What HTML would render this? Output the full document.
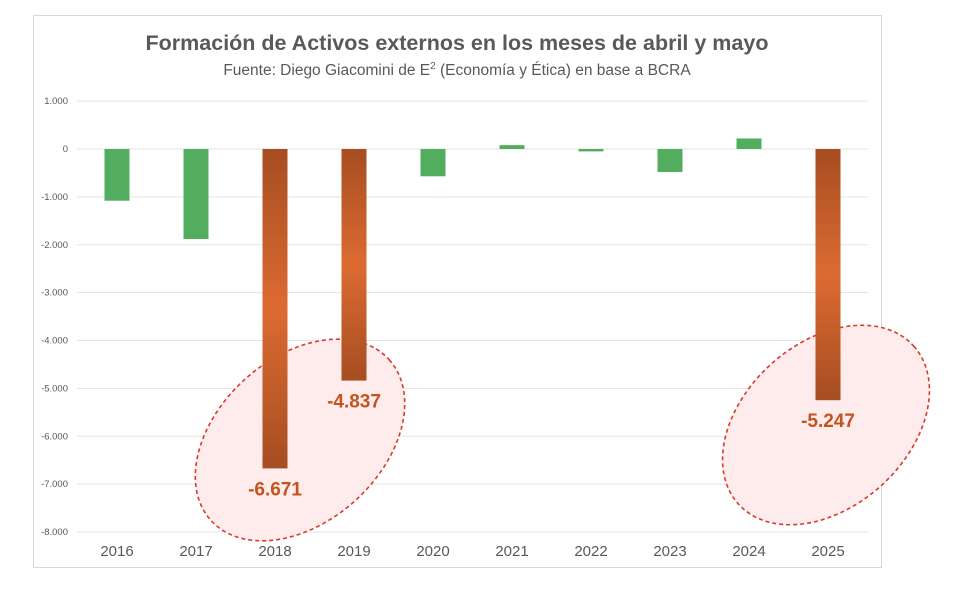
<!DOCTYPE html>
<html><head><meta charset="utf-8"><style>
body{margin:0;background:#fff;font-family:"Liberation Sans",sans-serif}
</style></head><body>
<svg width="958" height="606" id="c">
<defs>
<linearGradient id="og" x1="0" y1="0" x2="0" y2="1">
<stop offset="0" stop-color="#a64d22"/><stop offset="0.5" stop-color="#dc6b31"/><stop offset="1" stop-color="#a64d22"/>
</linearGradient>
</defs>
<rect x="33.5" y="15.5" width="848" height="552" fill="#fff" stroke="#d9d9d9"/>
<text x="457" y="50" text-anchor="middle" font-size="21.5" font-weight="bold" fill="#595959">Formación de Activos externos en los meses de abril y mayo</text>
<text x="457" y="75" text-anchor="middle" font-size="15.5" fill="#595959">Fuente: Diego Giacomini de E<tspan dy="-6" font-size="10">2</tspan><tspan dy="6"> (Economía y Ética) en base a BCRA</tspan></text>
<g id="grid"></g>
<g id="anno"></g>
<g id="bars"></g>
<g id="labels"></g>
</svg>
<script>
const categories=["2016","2017","2018","2019","2020","2021","2022","2023","2024","2025"];
const values=[-1080,-1880,-6671,-4837,-570,80,-50,-480,220,-5247];
const highlighted=[false,false,true,true,false,false,false,false,false,true];
const ticks=[1000,0,-1000,-2000,-3000,-4000,-5000,-6000,-7000,-8000];
const tickLabels=["1.000","0","-1.000","-2.000","-3.000","-4.000","-5.000","-6.000","-7.000","-8.000"];
const valueLabels=["","","-6.671","-4.837","","","","","","-5.247"];
const NS="http://www.w3.org/2000/svg";
const y=v=>149-v*0.04788;
const x=i=>117+i*79;
function mk(t,a,p){const e=document.createElementNS(NS,t);for(const k in a)e.setAttribute(k,a[k]);document.getElementById(p).appendChild(e);return e;}
ticks.forEach((t,i)=>{
 const l=mk('line',{x1:77,x2:868,y1:y(t),y2:y(t),stroke:'#e3e3e3'},'grid');
 
 
 const tx=mk('text',{x:68,y:y(t)+3,'text-anchor':'end','font-size':9.5,fill:'#595959'},'grid');
 tx.textContent=tickLabels[i];
 
 
});
[[300,440,120,82,-42],[826,425,118,82,-42]].forEach(e=>{
 const el=mk('ellipse',{cx:e[0],cy:e[1],rx:e[2],ry:e[3],transform:`rotate(${e[4]} ${e[0]} ${e[1]})`,fill:'#fdeceb',stroke:'#d93a2a','stroke-width':1.6,'stroke-dasharray':'4 3'},'anno');
 
 
});
categories.forEach((c,i)=>{
 const v=values[i],top=Math.min(y(v),y(0)),h=Math.abs(y(v)-y(0));
 const b=mk('rect',{x:x(i)-12.5,y:top,width:25,height:Math.max(h,1),fill:highlighted[i]?'url(#og)':'#52ad5e'},'bars');
 
 
 const t=mk('text',{x:x(i),y:556,'text-anchor':'middle','font-size':15,fill:'#595959'},'labels');
 t.textContent=c;
 
 
 if(valueLabels[i]){
  const vl=mk('text',{x:x(i),y:y(v)+27,'text-anchor':'middle','font-size':19,'font-weight':'bold',fill:'#c4541f'},'labels');
  vl.textContent=valueLabels[i];
  
  
 }
});
</script>
</body></html>
